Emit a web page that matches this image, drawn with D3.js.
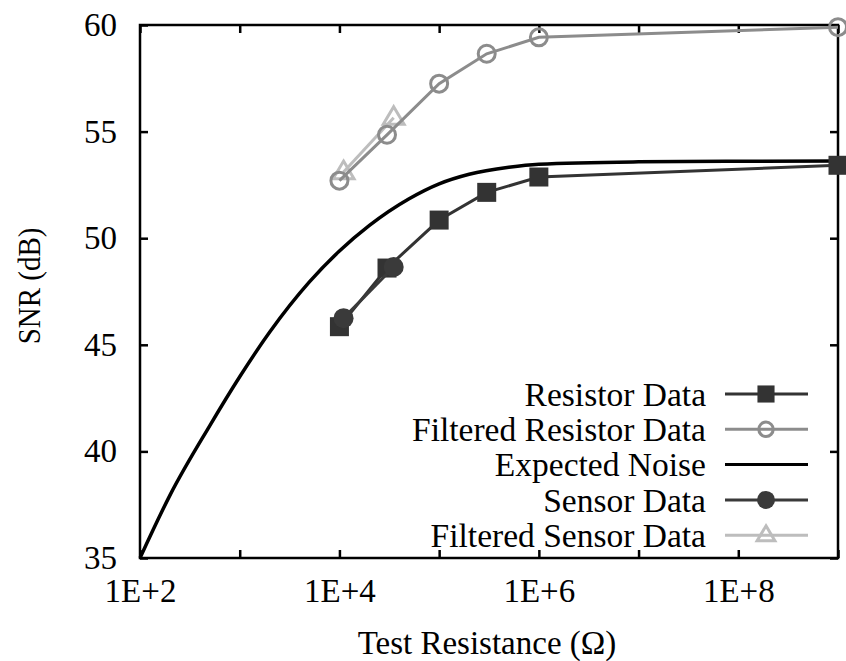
<!DOCTYPE html>
<html><head><meta charset="utf-8">
<script src="https://cdn.jsdelivr.net/npm/d3@7"></script>
<style>body{margin:0;background:#fff}svg{display:block}</style>
</head><body>
<script>
// ---- data ----
const resistorX = [1e4, 3e4, 1e5, 3e5, 1e6, 1e9];
const resistorY = [45.85, 48.6, 50.85, 52.15, 52.87, 53.42];
const filtResistorX = [1e4, 3e4, 1e5, 3e5, 1e6, 1e9];
const filtResistorY = [52.7, 54.85, 57.25, 58.65, 59.42, 59.9];
const sensorX = [1.1e4, 3.5e4];
const sensorY = [46.25, 48.65];
const filtSensorX = [1.1e4, 3.5e4];
const filtSensorY = [53.1, 55.65];
const noiseX = [100, 200, 500, 1000, 2000, 5000, 1e4, 2e4, 5e4, 1e5, 2e5, 5e5, 1e6, 1e7, 1e8, 1e9];
const noiseY = [35.0, 37.95, 41.2, 43.5, 45.6, 47.95, 49.4, 50.6, 51.85, 52.55, 53.0, 53.33, 53.47, 53.58, 53.61, 53.62];
const xTickValues = [1e2, 1e3, 1e4, 1e5, 1e6, 1e7, 1e8, 1e9];
const xTickLabels = {100: "1E+2", 10000: "1E+4", 1000000: "1E+6", 100000000: "1E+8"};
const yTickValues = [35, 40, 45, 50, 55, 60];
const legendLabels = ["Resistor Data", "Filtered Resistor Data", "Expected Noise", "Sensor Data", "Filtered Sensor Data"];

const W = 846, H = 661;
const L = 140, R = 838, T = 25, B = 558;
const FONT = '"Liberation Serif"';
const svg = d3.select("body").append("svg").attr("width", W).attr("height", H).style("font-family", FONT);
const x = d3.scaleLog().domain([1e2, 1e9]).range([L, R]);
const y = d3.scaleLinear().domain([35, 60]).range([B, T]);

const FS = 33;
const tl = 8;
const styleAxis = a => {
  a.attr("font-family", null).attr("font-size", null);
  a.select(".domain").remove();
  a.selectAll("line").attr("stroke", "#000").attr("stroke-width", 2.5);
  a.selectAll("text").style("font-family", FONT).style("font-size", FS + "px").attr("fill", "#000");
};
svg.append("g").attr("transform", `translate(0,${B})`)
  .call(d3.axisBottom(x).tickValues(xTickValues).tickSize(-tl).tickPadding(21).tickFormat(d => xTickLabels[d] || ""))
  .call(styleAxis).call(a => a.selectAll("text").attr("dy", "0.71em"));
svg.append("g").attr("transform", `translate(0,${T})`)
  .call(d3.axisTop(x).tickValues(xTickValues).tickSize(-tl).tickFormat(""))
  .call(styleAxis);
svg.append("g").attr("transform", `translate(${L},0)`)
  .call(d3.axisLeft(y).tickValues(yTickValues).tickSize(-tl).tickPadding(23).tickFormat(d3.format("d")))
  .call(styleAxis);
svg.append("g").attr("transform", `translate(${R},0)`)
  .call(d3.axisRight(y).tickValues(yTickValues).tickSize(-tl).tickFormat(""))
  .call(styleAxis);

svg.append("rect").attr("x", L).attr("y", T).attr("width", R - L).attr("height", B - T)
  .attr("fill", "none").attr("stroke", "#000").attr("stroke-width", 2.5);

// axis titles
svg.append("text").attr("x", 487).attr("y", 654).attr("text-anchor", "middle")
  .style("font-family", FONT).style("font-size", FS + "px").text("Test Resistance (Ω)");
svg.append("text").attr("transform", `translate(40,286) scale(1.12,1) rotate(-90)`).attr("text-anchor", "middle")
  .style("font-family", FONT).style("font-size", "29px").text("SNR (dB)");

const line = d3.line().x(d => x(d[0])).y(d => y(d[1]));
const zip = (a, b) => a.map((v, i) => [v, b[i]]);

const cRes = "#333333", cFilt = "#8c8c8c", cSens = "#3a3a3a", cFS = "#bdbdbd";

// Expected noise
svg.append("path").datum(zip(noiseX, noiseY)).attr("d", line.curve(d3.curveMonotoneX)).attr("fill", "none").attr("stroke", "#000").attr("stroke-width", 3.5);
line.curve(d3.curveLinear);

function series(xs, ys, color, marker) {
  const d = zip(xs, ys);
  svg.append("path").datum(d).attr("d", line).attr("fill", "none").attr("stroke", color).attr("stroke-width", 3);
  d.forEach(p => marker(svg, x(p[0]), y(p[1]), color, 1));
}
function square(s, cx, cy, c, k) { s.append("rect").attr("x", cx - 9.5 * k).attr("y", cy - 9.5 * k).attr("width", 19 * k).attr("height", 19 * k).attr("fill", c); }
function dot(s, cx, cy, c, k) { s.append("circle").attr("cx", cx).attr("cy", cy).attr("r", 10 * k).attr("fill", c); }
function ocirc(s, cx, cy, c, k) { s.append("circle").attr("cx", cx).attr("cy", cy).attr("r", 8.5 * k).attr("fill", "none").attr("stroke", c).attr("stroke-width", 3); }
function tri(s, cx, cy, c, k) {
  const r = 11 * k;
  s.append("path").attr("d", `M${cx},${cy - r}L${cx + r * 0.95},${cy + r * 0.6}L${cx - r * 0.95},${cy + r * 0.6}Z`).attr("fill", "none").attr("stroke", c).attr("stroke-width", 3);
}

series(filtSensorX, filtSensorY, cFS, tri);
series(filtResistorX, filtResistorY, cFilt, ocirc);
series(resistorX, resistorY, cRes, square);
series(sensorX, sensorY, cSens, dot);

// legend
const legColors = [cRes, cFilt, "#000", cSens, cFS];
const legMarkers = [square, ocirc, null, dot, tri];
const legScale = [0.9, 0.85, 0, 0.9, 0.85];
legendLabels.forEach((lab, i) => {
  const ly = 394 + i * 35.3;
  svg.append("text").attr("x", 706).attr("y", ly).attr("dy", "0.35em").attr("text-anchor", "end")
    .style("font-family", FONT).style("font-size", "33.5px").text(lab);
  svg.append("line").attr("x1", 725).attr("x2", 808).attr("y1", ly).attr("y2", ly).attr("stroke", legColors[i]).attr("stroke-width", 3);
  if (legMarkers[i]) legMarkers[i](svg, 766, ly, legColors[i], legScale[i]);
});
</script>
</body></html>
